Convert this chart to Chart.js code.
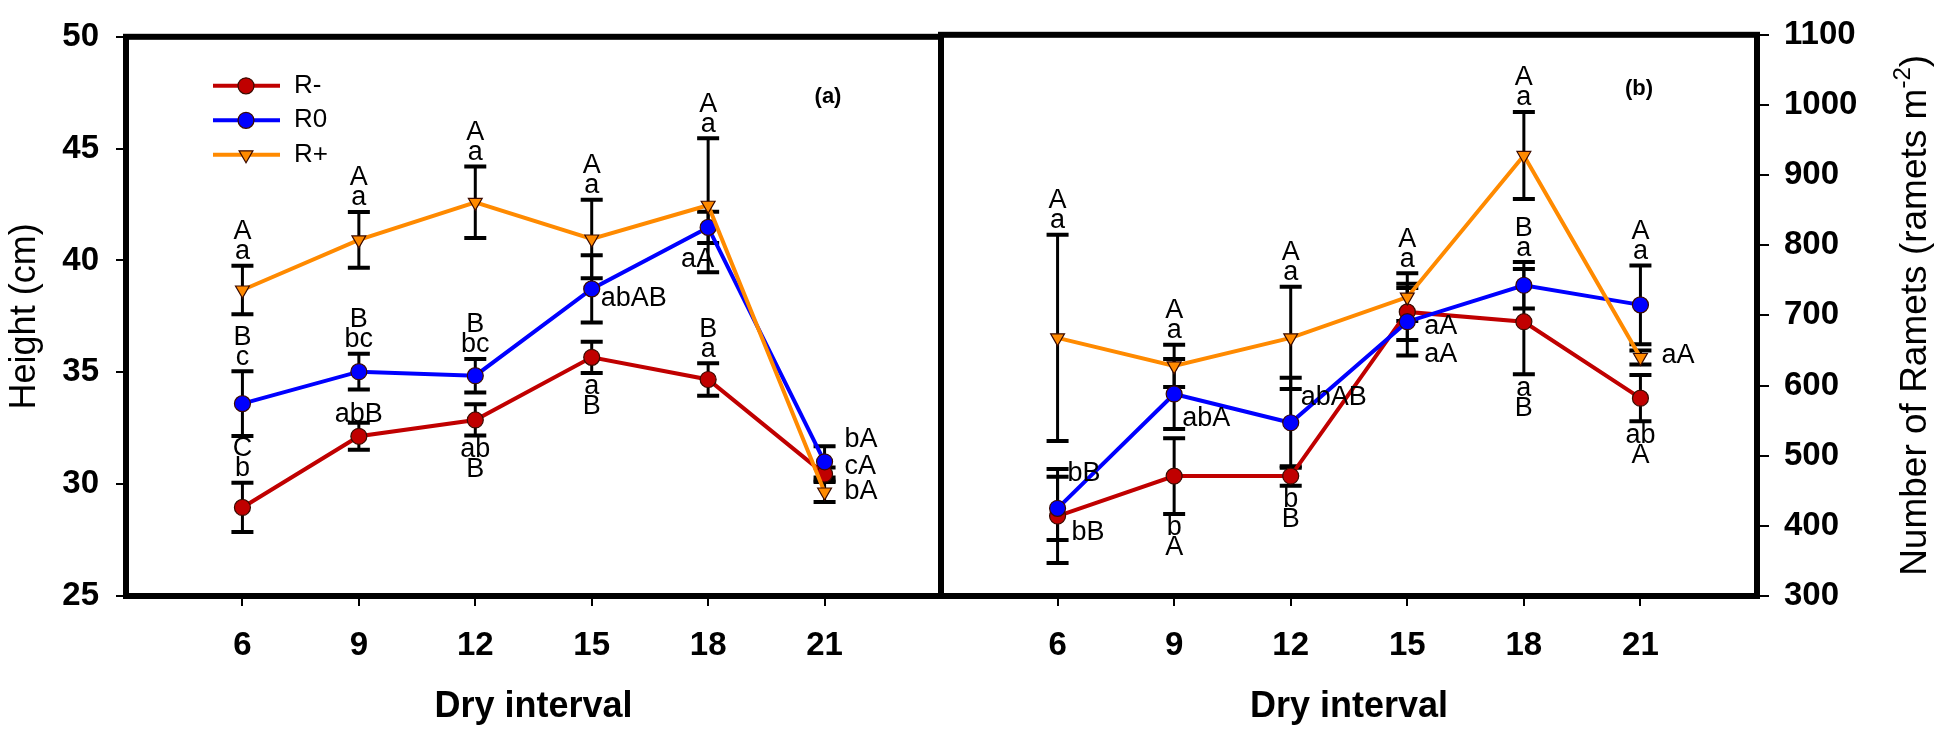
<!DOCTYPE html>
<html>
<head>
<meta charset="utf-8">
<title>Height and ramets by dry interval</title>
<script src="https://cdn.jsdelivr.net/npm/chart.js@4.4.1/dist/chart.umd.min.js"></script>
<style>
  html, body { margin: 0; padding: 0; background: #fff; }
  #wrap { position: relative; width: 1946px; height: 730px; }
  canvas { position: absolute; left: 0; top: 0; }
</style>
</head>
<body>
<div id="wrap">
  <canvas id="height-chart" width="1946" height="730"></canvas>
  <canvas id="ramets-chart" width="1946" height="730"></canvas>
</div>
<script>
// Eixo x: intervalos de seca
const dryInterval = [6, 9, 12, 15, 18, 21];
const xTicks = [6, 9, 12, 15, 18, 21];
const heightTicks = [25, 30, 35, 40, 45, 50];
const rametTicks = [300, 400, 500, 600, 700, 800, 900, 1000, 1100];

// (a) altura (cm)
const heightRminus = [28.96, 32.14, 32.87, 35.67, 34.68, 30.45];
const heightRminusErr = [1.1, 0.6, 0.7, 0.7, 0.73, 0.3];
const heightR0 = [33.6, 35.03, 34.85, 38.73, 41.48, 31.0];
const heightR0Err = [1.45, 0.8, 0.75, 1.5, 0.7, 0.7];
const heightRplus = [38.68, 40.92, 42.6, 40.96, 42.47, 29.65];
const heightRplusErr = [1.08, 1.25, 1.6, 1.75, 3.0, 0.45];

// (b) numero de rametas
const rametRminus = [414, 471, 471, 705, 691, 582];
const rametRminusErr = [67, 54, 14, 40, 75, 33];
const rametR0 = [425, 588, 547, 691, 743, 715];
const rametR0Err = [45, 50, 64, 48, 33, 56];
const rametRplus = [668, 628, 668, 726, 928, 640];
const rametRplusErr = [147, 30, 73, 34, 62, 10];

// letras de significancia
const heightRminusLetters = [['C', 'b'], ['abB'], ['ab', 'B'], ['a', 'B'], ['B', 'a'], ['cA']];
const heightR0Letters = [['B', 'c'], ['B', 'bc'], ['B', 'bc'], ['abAB'], ['aA'], ['bA']];
const heightRplusLetters = [['A', 'a'], ['A', 'a'], ['A', 'a'], ['A', 'a'], ['A', 'a'], ['bA']];
const rametRminusLetters = [['bB'], ['b', 'A'], ['b', 'B'], ['aA'], ['a', 'B'], ['ab', 'A']];
const rametR0Letters = [['bB'], ['abA'], ['abAB'], ['aA'], ['B', 'a'], ['A', 'a']];
const rametRplusLetters = [['A', 'a'], ['A', 'a'], ['A', 'a'], ['A', 'a'], ['A', 'a'], ['aA']];

// onde cada letra fica em relacao ao ponto
const atTop = { at: 'top' };
const atBottom = { at: 'bottom' };
const heightRminusPlace = [atTop, { at: 'top', dy: 6 }, atBottom, atBottom, atTop, { at: 'right', dx: 20, dy: -8 }];
const heightR0Place = [atTop, atTop, atTop, { at: 'right', dx: 9, dy: 10 }, { at: 'left', dx: 6, dy: 32 }, { at: 'right', dx: 20, dy: -22 }];
const heightRplusPlace = [atTop, atTop, atTop, atTop, atTop, { at: 'right', dx: 20, dy: 0 }];
const rametRminusPlace = [{ at: 'right', dx: 14, dy: 17 }, atBottom, atBottom, { at: 'right', dx: 17, dy: 43 }, atBottom, atBottom];
const rametR0Place = [{ at: 'right', dx: 10, dy: -35 }, { at: 'right', dx: 8, dy: 25 }, { at: 'right', dx: 10, dy: -25 }, { at: 'right', dx: 17, dy: 5 }, atTop, atTop];
const rametRplusPlace = [atTop, atTop, atTop, atTop, atTop, { at: 'right', dx: 21, dy: -2 }];

const FONT = "'Liberation Sans', Arial, sans-serif";
Chart.defaults.font.family = FONT;
Chart.defaults.color = '#000';

const RED = '#C00000';
const BLUE = '#0000FF';
const ORANGE = '#FF8A00';

function points(values) {
    return values.map(function (v, i) { return { x: dryInterval[i], y: v }; });
}

function series(label, values, err, letters, place, color, style, order) {
    return {
        label: label,
        data: points(values),
        err: err,
        letters: letters,
        place: place,
        order: order,
        borderColor: color,
        backgroundColor: color,
        borderWidth: 4,
        tension: 0,
        pointStyle: style,
        pointRotation: style === 'triangle' ? 180 : 0,
        pointRadius: 8,
        pointBackgroundColor: color,
        pointBorderColor: '#3a0a00',
        pointBorderWidth: 1.2
    };
}

// Barras de erro
const errorBars = {
    id: 'errorBars',
    beforeDatasetsDraw(chart) {
        const ctx = chart.ctx;
        const xs = chart.scales.x, ys = chart.scales.y;
        ctx.save();
        ctx.strokeStyle = '#000';
        chart.data.datasets.forEach(function (ds) {
            ds.data.forEach(function (p, i) {
                const px = xs.getPixelForValue(p.x);
                const t = ys.getPixelForValue(p.y + ds.err[i]);
                const b = ys.getPixelForValue(p.y - ds.err[i]);
                ctx.lineWidth = 3;
                ctx.beginPath();
                ctx.moveTo(px, t); ctx.lineTo(px, b);
                ctx.stroke();
                ctx.lineWidth = 4;
                ctx.beginPath();
                ctx.moveTo(px - 11, t); ctx.lineTo(px + 11, t);
                ctx.moveTo(px - 11, b); ctx.lineTo(px + 11, b);
                ctx.stroke();
            });
        });
        ctx.restore();
    }
};

// Letras
const letterTags = {
    id: 'letterTags',
    afterDatasetsDraw(chart) {
        const ctx = chart.ctx;
        const xs = chart.scales.x, ys = chart.scales.y;
        const gap = 20;
        ctx.save();
        ctx.font = '27px ' + FONT;
        ctx.fillStyle = '#000';
        ctx.textBaseline = 'middle';
        chart.data.datasets.forEach(function (ds) {
            ds.data.forEach(function (p, i) {
                const lines = ds.letters[i];
                const pl = ds.place[i];
                const px = xs.getPixelForValue(p.x);
                const py = ys.getPixelForValue(p.y);
                const dy = pl.dy || 0;
                if (pl.at === 'top') {
                    const t = ys.getPixelForValue(p.y + ds.err[i]);
                    ctx.textAlign = 'center';
                    lines.forEach(function (s, k) {
                        ctx.fillText(s, px, t - 14 + dy - (lines.length - 1 - k) * gap);
                    });
                } else if (pl.at === 'bottom') {
                    const b = ys.getPixelForValue(p.y - ds.err[i]);
                    ctx.textAlign = 'center';
                    lines.forEach(function (s, k) {
                        ctx.fillText(s, px, b + 14 + dy + k * gap);
                    });
                } else if (pl.at === 'right') {
                    ctx.textAlign = 'left';
                    ctx.fillText(lines[0], px + pl.dx, py + dy);
                } else {
                    ctx.textAlign = 'right';
                    ctx.fillText(lines[0], px + pl.dx, py + dy);
                }
            });
        });
        ctx.restore();
    }
};

// Moldura
const frame = {
    id: 'frame',
    afterDraw(chart, args, opts) {
        const a = chart.chartArea;
        const ctx = chart.ctx;
        ctx.save();
        ctx.strokeStyle = '#000';
        ctx.lineWidth = 6;
        ctx.strokeRect(a.left, a.top, a.right - a.left, a.bottom - a.top);
        if (opts.tag) {
            ctx.font = 'bold 22px ' + FONT;
            ctx.textAlign = 'center';
            ctx.textBaseline = 'middle';
            ctx.fillStyle = '#000';
            ctx.fillText(opts.tag, a.right + opts.tagDx, a.top + opts.tagDy);
        }
        ctx.restore();
    }
};

// Legenda
const seriesLegend = {
    id: 'seriesLegend',
    afterDatasetsDraw(chart) {
        const ctx = chart.ctx;
        const a = chart.chartArea;
        const x0 = a.left + 87, y0 = a.top + 49;
        ctx.save();
        chart.data.datasets.forEach(function (ds, i) {
            const yy = y0 + i * 34.5;
            ctx.strokeStyle = ds.borderColor;
            ctx.lineWidth = 4;
            ctx.beginPath();
            ctx.moveTo(x0, yy); ctx.lineTo(x0 + 67, yy);
            ctx.stroke();
            ctx.fillStyle = ds.pointBackgroundColor;
            ctx.strokeStyle = ds.pointBorderColor;
            ctx.lineWidth = ds.pointBorderWidth;
            Chart.helpers.drawPoint(ctx, {
                pointStyle: ds.pointStyle,
                rotation: ds.pointRotation,
                radius: ds.pointRadius,
                borderWidth: ds.pointBorderWidth
            }, x0 + 33, yy);
            ctx.fillStyle = '#000';
            ctx.font = '26px ' + FONT;
            ctx.textAlign = 'left';
            ctx.textBaseline = 'middle';
            ctx.fillText(ds.label, x0 + 81, yy);
        });
        ctx.restore();
    }
};

// Titulo do eixo direito (lido de baixo para cima)
const rightTitle = {
    id: 'rightTitle',
    afterDraw(chart) {
        const ctx = chart.ctx;
        const a = chart.chartArea;
        const main = 'Number of Ramets (ramets m';
        const sup = '-2';
        const end = ')';
        ctx.save();
        ctx.translate(1916, (a.top + a.bottom) / 2);
        ctx.rotate(-Math.PI / 2);
        ctx.fillStyle = '#000';
        ctx.textBaseline = 'middle';
        ctx.textAlign = 'left';
        ctx.font = '37px ' + FONT;
        const w1 = ctx.measureText(main).width;
        const w3 = ctx.measureText(end).width;
        ctx.font = '24px ' + FONT;
        const w2 = ctx.measureText(sup).width;
        let x = -(w1 + w2 + w3) / 2;
        ctx.font = '37px ' + FONT;
        ctx.fillText(main, x, 0);
        x += w1;
        ctx.font = '24px ' + FONT;
        ctx.fillText(sup, x, -13);
        x += w2;
        ctx.font = '37px ' + FONT;
        ctx.fillText(end, x, 0);
        ctx.restore();
    }
};

const tickFont = { size: 33, weight: 'bold' };
const axisGrid = { drawOnChartArea: false, color: '#000', lineWidth: 2, tickLength: 10 };
const plainNumber = function (v) { return String(v); };

function xAxis() {
    return {
        type: 'linear',
        min: 3,
        max: 24,
        afterBuildTicks: function (s) { s.ticks = xTicks.map(function (v) { return { value: v }; }); },
        afterFit: function (s) { s.height = 134; },
        border: { display: false },
        grid: axisGrid,
        ticks: { font: tickFont, padding: 20, color: '#000', callback: plainNumber },
        title: { display: true, text: 'Dry interval', font: { size: 36, weight: 'bold' }, padding: { top: 0, bottom: 1 }, color: '#000' }
    };
}

// Grafico (a)
const heightChart = document.getElementById('height-chart');
new Chart(heightChart, {
    type: 'line',
    data: {
        datasets: [
            series('R-', heightRminus, heightRminusErr, heightRminusLetters, heightRminusPlace, RED, 'circle', 2),
            series('R0', heightR0, heightR0Err, heightR0Letters, heightR0Place, BLUE, 'circle', 1),
            series('R+', heightRplus, heightRplusErr, heightRplusLetters, heightRplusPlace, ORANGE, 'triangle', 0)
        ]
    },
    options: {
        responsive: false,
        animation: false,
        devicePixelRatio: 1,
        layout: { padding: { left: 0, top: 15, right: 1946 - 941, bottom: 0 } },
        plugins: {
            legend: { display: false },
            tooltip: { enabled: false },
            frame: { tag: '(a)', tagDx: -113, tagDy: 60 }
        },
        scales: {
            x: xAxis(),
            y: {
                min: 25,
                max: 50,
                afterBuildTicks: function (s) { s.ticks = heightTicks.map(function (v) { return { value: v }; }); },
                afterFit: function (s) { s.width = 126; },
                border: { display: false },
                grid: axisGrid,
                ticks: { font: tickFont, padding: 17, color: '#000', callback: plainNumber },
                title: { display: true, text: 'Height (cm)', font: { size: 36 }, padding: { top: 3 }, color: '#000' }
            }
        }
    },
    plugins: [errorBars, letterTags, frame, seriesLegend]
});

// Grafico (b)
const rametsChart = document.getElementById('ramets-chart');
new Chart(rametsChart, {
    type: 'line',
    data: {
        datasets: [
            series('R-', rametRminus, rametRminusErr, rametRminusLetters, rametRminusPlace, RED, 'circle', 2),
            series('R0', rametR0, rametR0Err, rametR0Letters, rametR0Place, BLUE, 'circle', 1),
            series('R+', rametRplus, rametRplusErr, rametRplusLetters, rametRplusPlace, ORANGE, 'triangle', 0)
        ]
    },
    options: {
        responsive: false,
        animation: false,
        devicePixelRatio: 1,
        layout: { padding: { left: 941, top: 15, right: 0, bottom: 0 } },
        plugins: {
            legend: { display: false },
            tooltip: { enabled: false },
            frame: { tag: '(b)', tagDx: -118, tagDy: 54 }
        },
        scales: {
            x: xAxis(),
            y: {
                position: 'right',
                min: 300,
                max: 1100,
                afterBuildTicks: function (s) { s.ticks = rametTicks.map(function (v) { return { value: v }; }); },
                afterFit: function (s) { s.width = 1946 - 1757; },
                border: { display: false },
                grid: { drawOnChartArea: false, color: '#000', lineWidth: 2, tickLength: 12 },
                ticks: { font: tickFont, padding: 15, color: '#000', callback: plainNumber }
            }
        }
    },
    plugins: [errorBars, letterTags, frame, rightTitle]
});
</script>
</body>
</html>
